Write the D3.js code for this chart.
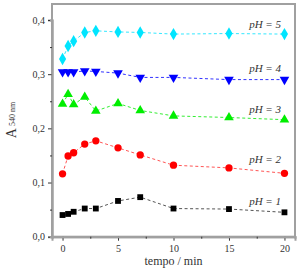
<!DOCTYPE html>
<html>
<head>
<meta charset="utf-8">
<script src="https://cdn.jsdelivr.net/npm/d3@7"></script>
<style>
  body { margin: 0; background: #fff; }
  text { font-family: "Liberation Serif", "Times New Roman", serif; }
</style>
</head>
<body>
<svg id="chart" width="300" height="275"></svg>
<script>
const times = [0, 0.5, 1, 2, 3, 5, 7, 10, 15, 20]
const ph1 = [0.040, 0.042, 0.046, 0.052, 0.052, 0.066, 0.073, 0.052, 0.051, 0.045]
const ph2 = [0.116, 0.149, 0.155, 0.171, 0.177, 0.164, 0.151, 0.132, 0.127, 0.117]
const ph3 = [0.245, 0.263, 0.244, 0.258, 0.232, 0.246, 0.233, 0.223, 0.220, 0.216]
const ph4 = [0.304, 0.304, 0.304, 0.306, 0.305, 0.302, 0.294, 0.294, 0.290, 0.290]
const ph5 = [0.328, 0.352, 0.361, 0.377, 0.380, 0.378, 0.377, 0.374, 0.375, 0.374]
const seriesNames = ["pH = 1", "pH = 2", "pH = 3", "pH = 4", "pH = 5"]
const xTicks = [0, 5, 10, 15, 20]
const yTicks = [0, 0.1, 0.2, 0.3, 0.4]

const series = [
    {name: seriesNames[0], values: ph1, color: "#000000", line: "#555555", symbol: d3.symbolSquare, size: 34, rot: 0},
    {name: seriesNames[1], values: ph2, color: "#ff0000", line: "#ff5555", symbol: d3.symbolCircle, size: 42, rot: 0},
    {name: seriesNames[2], values: ph3, color: "#00ee00", line: "#33ee33", symbol: d3.symbolTriangle, size: 40, rot: 0},
    {name: seriesNames[3], values: ph4, color: "#0000ff", line: "#3333ff", symbol: d3.symbolTriangle, size: 40, rot: 180},
    {name: seriesNames[4], values: ph5, color: "#00e5ff", line: "#33e8ff", symbol: d3.symbolDiamond, size: 44, rot: 0}
]

const margin = {top: 4, right: 5, bottom: 38, left: 52}
const width = 300, height = 275
const svg = d3.select("#chart")

const x = d3.scaleLinear().domain([-0.95, 20.95]).range([margin.left, width - margin.right])
const y = d3.scaleLinear().domain([0, 0.4]).range([236.7, 20])

// frame
svg.append("rect")
    .attr("x", margin.left)
    .attr("y", margin.top)
    .attr("width", width - margin.right - margin.left)
    .attr("height", y(0) - margin.top)
    .attr("fill", "none")
    .attr("stroke", "#a0a0a0")
    .attr("stroke-width", 2)

// x axis
const xAxis = svg.append("g")
    .attr("transform", `translate(0,${y(0)})`)
    .call(d3.axisBottom(x).tickValues(xTicks).tickSize(4).tickPadding(4).tickFormat(d3.format("d")))
const xMinor = svg.append("g")
    .attr("transform", `translate(0,${y(0)})`)
    .call(d3.axisBottom(x).tickValues([2.5, 7.5, 12.5, 17.5]).tickSize(2).tickFormat(""))

// y axis
const yAxis = svg.append("g")
    .attr("transform", `translate(${margin.left},0)`)
    .call(d3.axisLeft(y).tickValues(yTicks).tickSize(4).tickPadding(3)
        .tickFormat(d => d3.format(".1f")(d).replace(".", ",")))
const yMinor = svg.append("g")
    .attr("transform", `translate(${margin.left},0)`)
    .call(d3.axisLeft(y).tickValues([0.05, 0.15, 0.25, 0.35]).tickSize(2).tickFormat(""))

for (const g of [xAxis, xMinor, yAxis, yMinor]) {
    g.select(".domain").attr("stroke", "#a0a0a0").attr("stroke-width", 2)
    g.selectAll(".tick line").attr("stroke", "#333")
    g.selectAll(".tick text")
        .attr("fill", "#333")
        .style("font-family", "Liberation Serif, serif")
        .style("font-size", "10px")
}

// lines and markers
const line = d3.line()
    .x((d, i) => x(times[i]))
    .y(d => y(d))

series.forEach(s => {
    svg.append("path")
        .datum(s.values)
        .attr("d", line)
        .attr("fill", "none")
        .attr("stroke", s.line)
        .attr("stroke-width", 1)
        .attr("stroke-dasharray", "3,2.5")

    svg.append("g").selectAll("path")
        .data(s.values)
        .join("path")
        .attr("d", d3.symbol().type(s.symbol).size(s.size))
        .attr("transform", (d, i) => `translate(${x(times[i])},${y(d)}) rotate(${s.rot})`)
        .attr("fill", s.color)
})

// series labels
const labelY = [205, 163, 113, 72, 28]
series.forEach((s, i) => {
    svg.append("text")
        .attr("x", 281)
        .attr("y", labelY[i])
        .attr("text-anchor", "end")
        .attr("font-style", "italic")
        .attr("font-size", "11px")
        .attr("fill", "#333")
        .text(s.name)
})

// axis titles
svg.append("text")
    .attr("x", x(10))
    .attr("y", 265)
    .attr("text-anchor", "middle")
    .attr("font-size", "12px")
    .attr("font-weight", "normal")
    .attr("fill", "#333")
    .text("tempo / min")

const yl = svg.append("text")
    .attr("transform", "translate(16,120) rotate(-90)")
    .attr("text-anchor", "middle")
    .attr("fill", "#333")
yl.append("tspan").attr("font-size", "14px").text("A")
yl.append("tspan").attr("font-size", "8px").attr("dy", -1).attr("dx", 2).text("540 nm")
</script>
</body>
</html>
